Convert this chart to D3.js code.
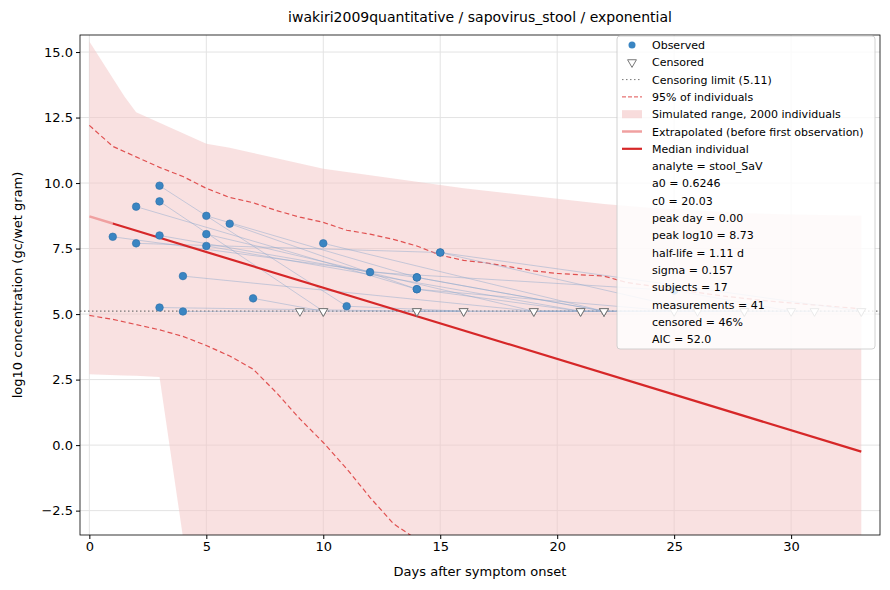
<!DOCTYPE html>
<html><head><meta charset="utf-8">
<script src="https://cdn.jsdelivr.net/npm/d3@7"></script>
<style>body{margin:0;background:#fff;font-family:"DejaVu Sans",sans-serif}</style>
</head><body><div id="chart"></div>
<script>
const censorLimit = 5.11;
// subjects: [day, log10, censored]
const subjects = [
  [[1, 7.95, 0], [14, 6.4, 0], [22, 5.11, 1]],
  [[2, 9.1, 0], [14, 5.95, 0], [21, 5.11, 1]],
  [[2, 7.7, 0], [15, 7.35, 0], [26, 5.11, 1]],
  [[3, 9.9, 0], [11, 5.3, 0], [16, 5.11, 1]],
  [[3, 9.3, 0], [10, 5.11, 1]],
  [[3, 8.0, 0], [12, 6.6, 0], [25, 5.9, 0], [30, 5.11, 1]],
  [[3, 5.25, 0], [14, 5.11, 1], [28, 5.11, 1]],
  [[4, 6.45, 0], [19, 5.11, 1], [33, 5.11, 1]],
  [[4, 5.1, 0], [9, 5.11, 1], [16, 5.11, 1]],
  [[5, 8.75, 0], [14, 6.4, 0], [22, 5.11, 1]],
  [[5, 8.05, 0], [19, 5.11, 1], [31, 5.11, 1]],
  [[5, 7.6, 0], [21, 5.11, 1]],
  [[6, 8.45, 0], [14, 5.95, 0], [25, 5.11, 1]],
  [[7, 5.6, 0], [10, 5.11, 1]],
  [[10, 7.7, 0], [22, 5.11, 1]],
  [[15, 7.35, 0], [33, 5.11, 1]],
  [[14, 5.11, 1], [28, 5.11, 1]]
];
const bandDays  = [0, 1.5, 2, 3, 4, 5, 6, 7, 8, 9, 10, 12, 14, 16, 18, 20, 22, 24, 26, 28, 30, 33];
const bandUpper = [15.4, 13.3, 12.7, 12.3, 11.9, 11.5, 11.35, 11.15, 10.95, 10.75, 10.55, 10.3, 10.05, 9.8, 9.6, 9.4, 9.2, 9.05, 8.95, 8.85, 8.8, 8.75];
const bandLower = [2.7, 2.66, 2.65, 2.6, -3.5, -3.5, -3.5, -3.5, -3.5, -3.5, -3.5, -3.5, -3.5, -3.5, -3.5, -3.5, -3.5, -3.5, -3.5, -3.5, -3.5, -3.5];
const pDays  = [0, 1, 2, 3, 4, 5, 6, 7, 8, 9, 10, 11, 12, 13, 14, 15, 16, 17, 18, 19, 20, 21, 22, 23, 25, 27, 29, 31, 33];
const pUpper = [12.2, 11.4, 11.0, 10.6, 10.25, 9.8, 9.45, 9.25, 8.95, 8.7, 8.5, 8.2, 8.05, 7.85, 7.6, 7.25, 7.05, 6.95, 6.8, 6.65, 6.55, 6.5, 6.45, 6.2, 5.95, 5.7, 5.5, 5.35, 5.2];
const pLower = [4.95, 4.8, 4.6, 4.4, 4.15, 3.8, 3.4, 2.9, 2.0, 1.0, 0.1, -0.9, -2.0, -3.0, -3.6, -4, -4, -4, -4, -4, -4, -4, -4, -4, -4, -4, -4, -4, -4];
const medianDays = [0, 1, 33];
const medianVals = [8.73, 8.458, -0.25];
const xTicks = [0, 5, 10, 15, 20, 25, 30];
const yTicks = [-2.5, 0, 2.5, 5, 7.5, 10, 12.5, 15];
const legendStats = ["analyte = stool_SaV", "a0 = 0.6246", "c0 = 20.03", "peak day = 0.00", "peak log10 = 8.73",
  "half-life = 1.11 d", "sigma = 0.157", "subjects = 17", "measurements = 41", "censored = 46%", "AIC = 52.0"];

const W = 890, H = 590, m = {l: 80, r: 10, t: 35, b: 55};
const svg = d3.select("#chart").append("svg").attr("width", W).attr("height", H);
const x = d3.scaleLinear().domain([-0.4, 33.8]).range([m.l, W - m.r]);
const y = d3.scaleLinear().domain([-3.43, 15.65]).range([H - m.b, m.t]);
const defs = svg.append("defs");
defs.append("clipPath").attr("id", "c").append("rect").attr("x", m.l).attr("y", m.t).attr("width", W - m.r - m.l).attr("height", H - m.b - m.t);
const g = svg.append("g").attr("clip-path", "url(#c)");

// grid
g.selectAll(".gx").data(xTicks).enter().append("line").attr("x1", d => x(d)).attr("x2", d => x(d)).attr("y1", m.t).attr("y2", H - m.b).attr("stroke", "#e3e3e3");
g.selectAll(".gy").data(yTicks).enter().append("line").attr("y1", d => y(d)).attr("y2", d => y(d)).attr("x1", m.l).attr("x2", W - m.r).attr("stroke", "#e3e3e3");

const band = d3.area().x((d, i) => x(bandDays[i])).y0((d, i) => y(bandLower[i])).y1(d => y(d));
g.append("path").attr("d", band(bandUpper)).attr("fill", "#f4c4c4").attr("opacity", 0.5);

const ln = days => d3.line().x((d, i) => x(days[i])).y(d => y(d));
g.append("path").attr("d", ln(pDays)(pUpper)).attr("fill", "none").attr("stroke", "#e05050").attr("stroke-width", 1.2).attr("stroke-dasharray", "5,3");
g.append("path").attr("d", ln(pDays)(pLower)).attr("fill", "none").attr("stroke", "#e05050").attr("stroke-width", 1.2).attr("stroke-dasharray", "5,3");

g.append("line").attr("x1", m.l).attr("x2", W - m.r).attr("y1", y(censorLimit)).attr("y2", y(censorLimit)).attr("stroke", "#777").attr("stroke-dasharray", "1.5,2.5").attr("stroke-width", 1.2);

const sl = d3.line().x(d => x(d[0])).y(d => y(d[1]));
g.selectAll(".subj").data(subjects).enter().append("path").attr("d", sl).attr("fill", "none").attr("stroke", "#8ea8cc").attr("stroke-width", 0.8).attr("opacity", 0.6);

g.append("path").attr("d", ln(medianDays.slice(0, 2))(medianVals.slice(0, 2))).attr("stroke", "#f0a0a0").attr("stroke-width", 2.5).attr("fill", "none");
g.append("path").attr("d", ln(medianDays.slice(1))(medianVals.slice(1))).attr("stroke", "#d62728").attr("stroke-width", 2.2).attr("fill", "none");

const pts = subjects.flat();
const tri = d3.symbol().type(d3.symbolTriangle).size(34);
g.selectAll(".cen").data(pts.filter(d => d[2])).enter().append("path").attr("d", tri)
  .attr("transform", d => `translate(${x(d[0])},${y(d[1])}) rotate(180)`).attr("fill", "#fff").attr("stroke", "#777");
g.selectAll(".obs").data(pts.filter(d => !d[2])).enter().append("circle").attr("cx", d => x(d[0])).attr("cy", d => y(d[1])).attr("r", 3.8)
  .attr("fill", "#3a85c2").attr("stroke", "#2c6fa8").attr("stroke-width", 0.6);

// frame and axes
svg.append("rect").attr("x", m.l).attr("y", m.t).attr("width", W - m.r - m.l).attr("height", H - m.b - m.t).attr("fill", "none").attr("stroke", "#000").attr("stroke-width", 0.8);
const xa = svg.append("g").attr("transform", `translate(0,${H - m.b})`).call(d3.axisBottom(x).tickValues(xTicks).tickSize(4).tickSizeOuter(0));
const ya = svg.append("g").attr("transform", `translate(${m.l},0)`).call(d3.axisLeft(y).tickValues(yTicks).tickFormat(d3.format(".1f")).tickSize(4).tickSizeOuter(0));
[xa, ya].forEach(a => { a.select(".domain").remove(); a.selectAll("text").attr("font-size", 13).attr("font-family", "DejaVu Sans").attr("fill", "#000"); });
ya.selectAll("text").text(d => d < 0 ? "\u2212" + Math.abs(d).toFixed(1) : d.toFixed(1));
svg.append("text").attr("x", (m.l + W - m.r) / 2).attr("y", 576).attr("text-anchor", "middle").attr("font-size", 13).text("Days after symptom onset");
svg.append("text").attr("transform", `translate(22,${(m.t + H - m.b) / 2}) rotate(-90)`).attr("text-anchor", "middle").attr("font-size", 13).text("log10 concentration (gc/wet gram)");
svg.append("text").attr("x", (m.l + W - m.r) / 2).attr("y", 22).attr("text-anchor", "middle").attr("font-size", 14).text("iwakiri2009quantitative / sapovirus_stool / exponential");

// legend
const L = svg.append("g").attr("transform", "translate(617,36)");
L.append("rect").attr("width", 258).attr("height", 313).attr("rx", 3).attr("fill", "#fff").attr("opacity", 0.85).attr("stroke", "#ccc");
const rowY = i => 9 + i * 17.3;
const items = ["Observed", "Censored", "Censoring limit (5.11)", "95% of individuals", "Simulated range, 2000 individuals", "Extrapolated (before first observation)", "Median individual"].concat(legendStats);
L.selectAll(".lt").data(items).enter().append("text").attr("x", 35).attr("y", (d, i) => rowY(i) + 4).attr("font-size", 11).text(d => d);
L.append("circle").attr("cx", 15).attr("cy", rowY(0)).attr("r", 3.5).attr("fill", "#3a85c2");
L.append("path").attr("d", tri).attr("transform", `translate(15,${rowY(1)}) rotate(180)`).attr("fill", "#fff").attr("stroke", "#777");
L.append("line").attr("x1", 5).attr("x2", 25).attr("y1", rowY(2)).attr("y2", rowY(2)).attr("stroke", "#777").attr("stroke-dasharray", "1.5,2.5");
L.append("line").attr("x1", 5).attr("x2", 25).attr("y1", rowY(3)).attr("y2", rowY(3)).attr("stroke", "#e05050").attr("stroke-dasharray", "4,2");
L.append("rect").attr("x", 5).attr("y", rowY(4) - 4).attr("width", 20).attr("height", 8).attr("fill", "#f4c4c4").attr("opacity", 0.6);
L.append("line").attr("x1", 5).attr("x2", 25).attr("y1", rowY(5)).attr("y2", rowY(5)).attr("stroke", "#f0a0a0").attr("stroke-width", 2.5);
L.append("line").attr("x1", 5).attr("x2", 25).attr("y1", rowY(6)).attr("y2", rowY(6)).attr("stroke", "#d62728").attr("stroke-width", 2.2);
</script></body></html>
